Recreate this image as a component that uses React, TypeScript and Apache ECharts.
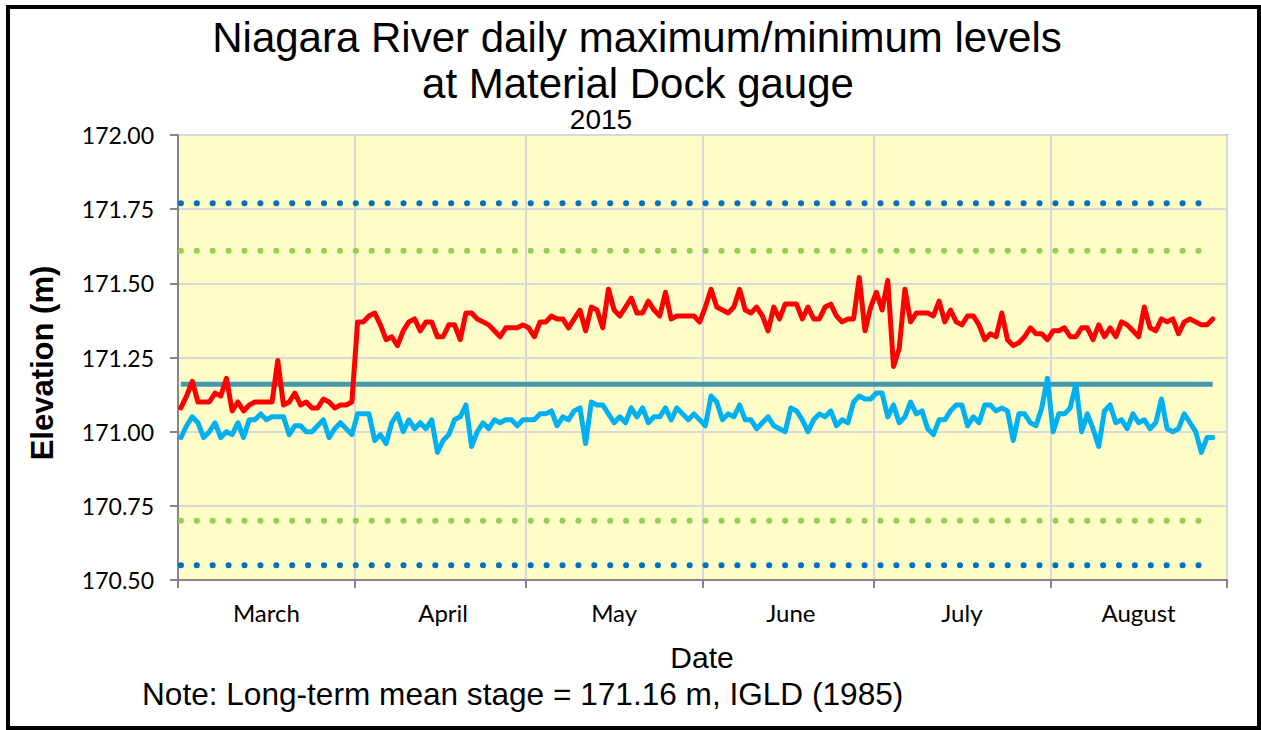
import React, { useEffect, useRef } from 'react';
import * as echarts from 'echarts';

const monthNames = ['March', 'April', 'May', 'June', 'July', 'August'];
const monthLengths = [31, 30, 31, 30, 31, 31];

const yMin = 170.5;
const yMax = 172.0;
const yInterval = 0.25;

const meanStage = 171.16;
const blueLevels = [171.77, 170.55];
const greenLevels = [171.61, 170.7];

// Daily maximum (red), Mar 1 .. Aug 29, 2015
const maxLevels = [
  // March
  171.08, 171.12, 171.17, 171.10, 171.10, 171.10, 171.13, 171.12, 171.18, 171.07,
  171.10, 171.07, 171.09, 171.10, 171.10, 171.10, 171.10, 171.24, 171.09, 171.10,
  171.13, 171.09, 171.10, 171.08, 171.08, 171.11, 171.10, 171.08, 171.09, 171.09, 171.10,
  // April
  171.37, 171.37, 171.39, 171.40, 171.36, 171.31, 171.32, 171.29, 171.34, 171.37,
  171.38, 171.34, 171.37, 171.37, 171.32, 171.32, 171.36, 171.36, 171.31, 171.40,
  171.40, 171.38, 171.37, 171.36, 171.34, 171.32, 171.35, 171.35, 171.35, 171.36,
  // May
  171.35, 171.32, 171.37, 171.37, 171.39, 171.38, 171.38, 171.35, 171.38, 171.41,
  171.34, 171.42, 171.41, 171.35, 171.48, 171.41, 171.39, 171.42, 171.45, 171.40,
  171.40, 171.44, 171.41, 171.39, 171.47, 171.38, 171.39, 171.39, 171.39, 171.39, 171.37,
  // June
  171.42, 171.48, 171.42, 171.41, 171.40, 171.42, 171.48, 171.41, 171.40, 171.42,
  171.39, 171.34, 171.42, 171.38, 171.43, 171.43, 171.43, 171.38, 171.42, 171.38,
  171.38, 171.42, 171.43, 171.39, 171.37, 171.38, 171.38, 171.52, 171.34, 171.42,
  // July
  171.47, 171.41, 171.51, 171.22, 171.28, 171.48, 171.37, 171.40, 171.40, 171.40,
  171.39, 171.44, 171.37, 171.41, 171.37, 171.36, 171.39, 171.39, 171.36, 171.31,
  171.33, 171.32, 171.40, 171.31, 171.29, 171.30, 171.32, 171.35, 171.33, 171.33, 171.31,
  // August
  171.34, 171.34, 171.35, 171.32, 171.32, 171.35, 171.35, 171.31, 171.36, 171.32,
  171.35, 171.32, 171.37, 171.36, 171.34, 171.32, 171.42, 171.35, 171.34, 171.38,
  171.37, 171.38, 171.33, 171.37, 171.38, 171.37, 171.36, 171.36, 171.38,
];

// Daily minimum (blue), Mar 1 .. Aug 29, 2015
const minLevels = [
  // March
  170.98, 171.02, 171.05, 171.03, 170.98, 171.00, 171.03, 170.98, 171.00, 170.99,
  171.03, 170.98, 171.04, 171.04, 171.06, 171.04, 171.05, 171.05, 171.05, 170.99,
  171.02, 171.02, 171.00, 171.00, 171.02, 171.04, 170.98, 171.01, 171.03, 171.01, 170.99,
  // April
  171.06, 171.06, 171.06, 170.97, 170.99, 170.96, 171.03, 171.06, 171.00, 171.04,
  171.01, 171.03, 171.01, 171.04, 170.93, 170.97, 170.99, 171.04, 171.05, 171.09,
  170.95, 171.00, 171.03, 171.01, 171.04, 171.03, 171.04, 171.04, 171.02, 171.04,
  // May
  171.04, 171.04, 171.06, 171.06, 171.07, 171.02, 171.05, 171.04, 171.07, 171.08,
  170.96, 171.10, 171.09, 171.09, 171.06, 171.03, 171.05, 171.03, 171.08, 171.05,
  171.08, 171.03, 171.05, 171.05, 171.08, 171.04, 171.08, 171.06, 171.04, 171.06, 171.04,
  // June
  171.02, 171.12, 171.10, 171.04, 171.06, 171.05, 171.09, 171.04, 171.04, 171.01,
  171.03, 171.05, 171.02, 171.01, 171.00, 171.08, 171.07, 171.04, 171.00, 171.04,
  171.06, 171.05, 171.07, 171.02, 171.04, 171.03, 171.10, 171.12, 171.11, 171.11,
  // July
  171.13, 171.13, 171.05, 171.09, 171.03, 171.05, 171.10, 171.06, 171.07, 171.01,
  170.99, 171.04, 171.04, 171.07, 171.09, 171.09, 171.02, 171.05, 171.03, 171.09,
  171.09, 171.07, 171.08, 171.07, 170.97, 171.06, 171.06, 171.03, 171.02, 171.08, 171.18,
  // August
  171.00, 171.06, 171.06, 171.08, 171.16, 171.00, 171.06, 171.01, 170.95, 171.07,
  171.09, 171.03, 171.04, 171.01, 171.06, 171.03, 171.04, 171.01, 171.03, 171.11,
  171.01, 171.00, 171.01, 171.06, 171.03, 171.00, 170.93, 170.98, 170.98,
];

// day categories and month boundaries (derived from month lengths)
const days: string[] = [];
const monthStartIdx: number[] = [];
const monthMidIdx: number[] = [];
const dayMonth: number[] = [];
monthLengths.forEach((len, m) => {
  monthStartIdx.push(days.length);
  monthMidIdx.push(days.length + Math.floor(len / 2));
  for (let d = 1; d <= len; d++) {
    days.push(`${monthNames[m]} ${d}`);
    dayMonth.push(m);
  }
});
const lastIdx = maxLevels.length - 1;

const AXIS_GREY = '#868686';
const GRID_GREY = '#d9d9d9';

function flatLine(value: number, color: string, width: number, dotted: boolean) {
  return {
    type: 'line',
    data: [
      [days[0], value],
      [days[lastIdx], value],
    ],
    symbol: 'none',
    silent: true,
    lineStyle: dotted
      ? { color, width, type: [0.1, 15.8], cap: 'round' }
      : { color, width, type: 'solid', cap: 'butt' },
  };
}

export default function App() {
  const ref = useRef<HTMLDivElement>(null);
  useEffect(() => {
    if (!ref.current) return;
    const chart = echarts.init(ref.current, null, { renderer: 'svg' });
    const titleFont = 'Liberation Sans, Arial, sans-serif';
    chart.setOption({
      animation: false,
      backgroundColor: '#ffffff',
      grid: {
        left: 178,
        top: 135,
        right: 34,
        bottom: 150,
        show: true,
        backgroundColor: '#fefdc8',
        borderColor: AXIS_GREY,
        borderWidth: 2,
      },
      xAxis: {
        type: 'category',
        data: days,
        boundaryGap: true,
        axisLine: { show: true, lineStyle: { color: AXIS_GREY, width: 2 } },
        axisTick: {
          show: true,
          length: 8,
          interval: (i: number) => monthStartIdx.includes(i),
          lineStyle: { color: AXIS_GREY, width: 2 },
        },
        axisLabel: {
          interval: (i: number) => monthMidIdx.includes(i),
          formatter: (_v: string, i: number) => monthNames[dayMonth[i]],
          fontFamily: 'Lato, sans-serif',
          fontSize: 24,
          color: '#000',
          margin: 20,
        },
        splitLine: {
          show: true,
          interval: (i: number) => monthStartIdx.includes(i),
          lineStyle: { color: GRID_GREY, width: 2 },
        },
      },
      yAxis: {
        type: 'value',
        min: yMin,
        max: yMax,
        interval: yInterval,
        axisLine: { show: true, lineStyle: { color: AXIS_GREY, width: 2 } },
        axisTick: { show: true, length: 8, lineStyle: { color: AXIS_GREY, width: 2 } },
        axisLabel: {
          formatter: (v: number) => v.toFixed(2),
          fontFamily: 'Lato, sans-serif',
          fontSize: 23,
          color: '#000',
          margin: 24,
        },
        splitLine: { show: true, lineStyle: { color: GRID_GREY, width: 2 } },
      },
      series: [
        flatLine(blueLevels[0], '#0070c0', 6, true),
        flatLine(blueLevels[1], '#0070c0', 6, true),
        flatLine(greenLevels[0], '#92d050', 6, true),
        flatLine(greenLevels[1], '#92d050', 6, true),
        flatLine(meanStage, '#4198af', 5, false),
        {
          type: 'line',
          name: 'Daily maximum',
          data: maxLevels,
          symbol: 'none',
          lineStyle: { color: '#ff0000', width: 5, join: 'round', cap: 'round' },
        },
        {
          type: 'line',
          name: 'Daily minimum',
          data: minLevels,
          symbol: 'none',
          lineStyle: { color: '#00b0f0', width: 5, join: 'round', cap: 'round' },
        },
      ],
      graphic: [
        {
          type: 'rect',
          shape: { x: 8, y: 7, width: 1251, height: 721 },
          style: { fill: 'none', stroke: '#000', lineWidth: 4 },
          silent: true,
        },
        {
          type: 'text',
          x: 637,
          y: 37,
          style: {
            text: 'Niagara River daily maximum/minimum levels',
            fontFamily: titleFont,
            fontSize: 42,
            fill: '#000',
            align: 'center',
            verticalAlign: 'middle',
          },
        },
        {
          type: 'text',
          x: 638,
          y: 83,
          style: {
            text: 'at Material Dock gauge',
            fontFamily: titleFont,
            fontSize: 42,
            fill: '#000',
            align: 'center',
            verticalAlign: 'middle',
          },
        },
        {
          type: 'text',
          x: 601,
          y: 119,
          style: {
            text: '2015',
            fontFamily: titleFont,
            fontSize: 28,
            fill: '#000',
            align: 'center',
            verticalAlign: 'middle',
          },
        },
        {
          type: 'text',
          x: 702,
          y: 657,
          style: {
            text: 'Date',
            fontFamily: titleFont,
            fontSize: 30,
            fill: '#000',
            align: 'center',
            verticalAlign: 'middle',
          },
        },
        {
          type: 'text',
          x: 142,
          y: 694,
          style: {
            text: 'Note: Long-term mean stage = 171.16 m, IGLD (1985)',
            fontFamily: titleFont,
            fontSize: 31.6,
            fill: '#000',
            align: 'left',
            verticalAlign: 'middle',
          },
        },
        {
          type: 'text',
          x: 42,
          y: 363,
          rotation: Math.PI / 2,
          style: {
            text: 'Elevation (m)',
            fontFamily: titleFont,
            fontSize: 31,
            fontWeight: 'bold',
            fill: '#000',
            align: 'center',
            verticalAlign: 'middle',
          },
        },
      ],
    });
    return () => chart.dispose();
  }, []);
  return (
    <div
      ref={ref}
      style={{ position: 'absolute', left: 0, top: 0, width: 1261, height: 730 }}
    />
  );
}
